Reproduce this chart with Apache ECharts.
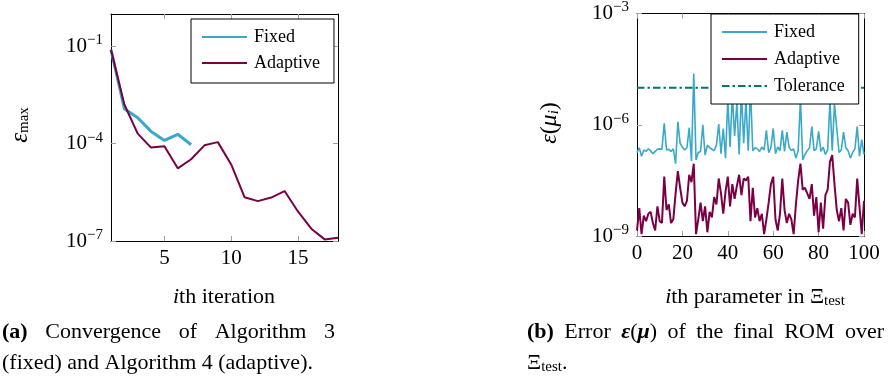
<!DOCTYPE html>
<html>
<head>
<meta charset="utf-8">
<script src="https://cdn.jsdelivr.net/npm/echarts@6/dist/echarts.min.js"></script>
<style>
  html, body { margin: 0; padding: 0; background: #fff; }
  #chart { width: 892px; height: 377px; }
</style>
</head>
<body>
<div id="chart"></div>
<script>
// (a) convergence of the greedy loop
const iterFixed = [1, 2, 3, 4, 5, 6, 7];
const errFixed = [7.94e-2, 1.20e-3, 6.31e-4, 2.40e-4, 1.26e-4, 1.95e-4, 9.33e-5];
const iterAdaptive = [1, 2, 3, 4, 5, 6, 7, 8, 9, 10, 11, 12, 13, 14, 15, 16, 17, 18];
const errAdaptive = [7.94e-2, 1.62e-3, 2.04e-4, 7.59e-5, 8.32e-5, 1.74e-5, 3.31e-5, 8.91e-5, 1.12e-4,
  2.29e-5, 2.24e-6, 1.70e-6, 2.19e-6, 3.47e-6, 8.13e-7, 2.40e-7, 1.12e-7, 1.26e-7];
const iterTicks = [5, 10, 15];
const errTicksA = [1e-7, 1e-4, 1e-1];

// (b) error of final ROM over the test set
const paramIdx = [0, 1, 2, 3, 4, 5, 6, 7, 8, 9, 10, 11, 12, 13, 14, 15, 16, 17, 18, 19,
  20, 21, 22, 23, 24, 25, 26, 27, 28, 29, 30, 31, 32, 33, 34, 35, 36, 37, 38, 39,
  40, 41, 42, 43, 44, 45, 46, 47, 48, 49, 50, 51, 52, 53, 54, 55, 56, 57, 58, 59,
  60, 61, 62, 63, 64, 65, 66, 67, 68, 69, 70, 71, 72, 73, 74, 75, 76, 77, 78, 79,
  80, 81, 82, 83, 84, 85, 86, 87, 88, 89, 90, 91, 92, 93, 94, 95, 96, 97, 98, 99, 100];
const errParamFixed = [
  1.78e-7, 2.40e-7, 1.41e-7, 2.09e-7, 1.91e-7, 2.24e-7, 2.00e-7, 1.66e-7, 1.91e-7, 2.19e-7,
  2.24e-7, 2.19e-7, 1.10e-6, 2.09e-7, 2.19e-7, 1.91e-7, 2.24e-7, 8.91e-8, 1.20e-6, 3.16e-7,
  2.51e-7, 2.09e-7, 2.40e-7, 8.32e-7, 1.05e-7, 2.40e-5, 1.12e-7, 1.78e-7, 1.91e-7, 1.00e-6,
  1.51e-7, 2.82e-7, 2.40e-7, 2.19e-7, 2.00e-7, 2.82e-7, 1.05e-6, 1.66e-7, 7.94e-7, 1.26e-7,
  5.01e-6, 2.51e-7, 6.31e-6, 5.01e-7, 3.98e-6, 1.58e-7, 7.94e-6, 3.16e-7, 4.47e-6, 2.00e-7,
  1.00e-5, 2.00e-7, 2.40e-7, 2.24e-7, 1.91e-7, 2.51e-7, 2.09e-7, 7.08e-7, 1.78e-7, 2.40e-7,
  7.94e-7, 1.66e-7, 2.51e-7, 2.00e-7, 7.08e-7, 1.91e-7, 6.31e-7, 2.51e-7, 2.00e-7, 2.24e-7,
  1.26e-7, 2.00e-7, 5.01e-6, 1.12e-7, 1.58e-7, 2.00e-7, 2.40e-7, 8.91e-7, 2.00e-7, 2.24e-7,
  6.61e-7, 1.91e-7, 2.51e-7, 1.58e-7, 2.09e-7, 4.47e-6, 2.00e-7, 3.55e-6, 7.94e-7, 1.78e-7,
  2.09e-7, 6.31e-7, 2.40e-7, 2.00e-7, 1.26e-7, 1.78e-7, 2.24e-7, 8.91e-7, 1.41e-7, 3.98e-7,
  1.58e-7];
const errParamAdaptive = [
  1.41e-9, 5.62e-9, 1.12e-9, 3.55e-9, 2.51e-9, 3.98e-9, 4.47e-9, 2.24e-9, 1.41e-9, 6.31e-9,
  2.51e-9, 2.24e-9, 3.98e-8, 5.01e-9, 7.08e-9, 2.24e-9, 2.82e-9, 1.41e-8, 5.62e-8, 2.00e-8,
  7.94e-9, 6.31e-9, 8.91e-9, 4.47e-8, 2.82e-8, 8.91e-8, 1.12e-9, 2.82e-9, 7.94e-9, 2.51e-9,
  6.31e-9, 1.26e-9, 4.47e-9, 3.16e-9, 1.12e-8, 7.08e-9, 3.55e-8, 1.41e-8, 3.98e-9, 1.58e-8,
  3.98e-8, 6.31e-9, 2.51e-8, 1.00e-8, 2.24e-8, 4.47e-8, 1.26e-8, 3.55e-8, 3.16e-8, 3.98e-8,
  2.51e-9, 2.00e-8, 3.16e-9, 5.62e-9, 2.51e-9, 3.98e-9, 1.12e-9, 2.82e-9, 7.94e-9, 2.51e-8,
  3.98e-8, 2.82e-9, 1.41e-9, 3.98e-9, 3.55e-8, 5.01e-9, 2.24e-9, 3.98e-9, 2.82e-9, 1.12e-9,
  7.08e-9, 3.16e-8, 8.91e-8, 1.78e-8, 2.00e-8, 1.41e-8, 1.00e-8, 2.51e-8, 3.55e-9, 1.12e-8,
  1.26e-9, 7.94e-9, 1.58e-9, 1.26e-8, 1.78e-8, 1.00e-7, 1.51e-7, 2.51e-8, 5.01e-9, 2.51e-9,
  5.62e-9, 1.41e-9, 1.00e-8, 7.94e-9, 2.00e-9, 3.98e-9, 3.16e-9, 3.55e-8, 6.31e-9, 1.12e-9,
  8.91e-9];
const tolX = [0, 100];
const tolY = [1e-5, 1e-5];
const paramTicks = [0, 20, 40, 60, 80, 100];
const errTicksB = [1e-9, 1e-6, 1e-3];

const serif = 'Liberation Serif';
const cCyan = '#3aa9c9';
const cPurple = '#7a0046';
const cTeal = '#00776f';
const tickGrey = '#a0a0a0';

const pairs = (xs, ys) => xs.map((x, i) => [x, ys[i]]);

// 10^{-n} labels
const powRich = {
  b: { fontFamily: serif, fontSize: 21, color: '#000' },
  s: { fontFamily: serif, fontSize: 15, color: '#000', padding: [0, 0, 12, 0] }
};
function powLabel(v) {
  const e = Math.round(Math.log10(v));
  return '{b|10}{s|\u2212' + Math.abs(e) + '}';
}

function xAxisDef(gridIndex, pos, min, max, ticks, showLabel) {
  return {
    type: 'value', gridIndex, position: pos, min, max,
    axisLine: { show: true, onZero: false, lineStyle: { color: '#000', width: 1 } },
    axisTick: { show: true, inside: true, length: 5, customValues: ticks, lineStyle: { color: tickGrey } },
    axisLabel: { show: showLabel, customValues: ticks, margin: 7, fontFamily: serif, fontSize: 21, color: '#000' },
    splitLine: { show: false }
  };
}
function yAxisDef(gridIndex, pos, min, max, ticks, showLabel) {
  return {
    type: 'log', logBase: 10, gridIndex, position: pos, min, max,
    axisLine: { show: true, onZero: false, lineStyle: { color: '#000', width: 1 } },
    axisTick: { show: true, inside: true, length: 5, customValues: ticks, lineStyle: { color: tickGrey } },
    axisLabel: { show: showLabel, customValues: ticks, margin: 8, formatter: powLabel, rich: powRich },
    splitLine: { show: false }
  };
}

function legendDef(left, top, names, padding, gap) {
  return {
    left, top, orient: 'vertical', data: names,
    backgroundColor: '#fff', borderColor: '#000', borderWidth: 1, borderRadius: 0,
    padding, itemGap: gap, itemWidth: 45, itemHeight: 14,
    selectedMode: false,
    itemStyle: { opacity: 0 },
    formatter: n => n.replace(' (b)', ''),
    textStyle: { fontFamily: serif, fontSize: 18, color: '#000', lineHeight: 18, padding: [0, 0, 0, 2] }
  };
}

// justified caption lines
const mctx = document.createElement('canvas').getContext('2d');
const fReg = '22px "' + serif + '"';
const fBold = 'bold 22px "' + serif + '"';
const fItB = 'italic bold 22px "' + serif + '"';
function tw(text, font) { mctx.font = font; return mctx.measureText(text).width; }

function word(t, font) {
  return { w: tw(t, font), make: (x, y) => ({ type: 'text', x, y, silent: true,
    style: { text: t, font, fill: '#000', verticalAlign: 'middle', align: 'left' } }) };
}
function epsMu() {
  const w = tw('ε', fItB) + tw('μ', fItB) + tw('(', fReg) + tw(')', fReg);
  return { w, make: (x, y) => ({ type: 'text', x, y, silent: true,
    style: { text: '{e|ε}{p|(}{e|μ}{p|)}', verticalAlign: 'middle', align: 'left',
      rich: { e: { fontFamily: serif, fontStyle: 'italic', fontWeight: 'bold', fontSize: 22, fill: '#000' },
              p: { fontFamily: serif, fontSize: 22, fill: '#000' } } } }) };
}
function justify(words, x0, x1, y) {
  const total = words.reduce((s, d) => s + d.w, 0);
  const gap = (x1 - x0 - total) / (words.length - 1);
  let x = x0;
  return words.map(d => { const el = d.make(x, y); x += d.w + gap; return el; });
}

const capA = justify([word('(a)', fBold), word('Convergence', fReg), word('of', fReg),
  word('Algorithm', fReg), word('3', fReg)], 2, 335, 332);
const capB = justify([word('(b)', fBold), word('Error', fReg), epsMu(), word('of', fReg),
  word('the', fReg), word('final', fReg), word('ROM', fReg), word('over', fReg)], 527, 884, 332);

const chart = echarts.init(document.getElementById('chart'), null, { renderer: 'canvas' });

chart.setOption({
  backgroundColor: '#fff',
  animation: false,
  grid: [
    { left: 111, top: 14, width: 227, height: 227 },
    { left: 637, top: 10, width: 227, height: 226 }
  ],
  xAxis: [
    xAxisDef(0, 'bottom', 1, 18, iterTicks, true),
    xAxisDef(0, 'top', 1, 18, iterTicks, false),
    xAxisDef(1, 'bottom', 0, 100, paramTicks, true),
    xAxisDef(1, 'top', 0, 100, paramTicks, false)
  ],
  yAxis: [
    yAxisDef(0, 'left', 1e-7, 1, errTicksA, true),
    yAxisDef(0, 'right', 1e-7, 1, errTicksA, false),
    yAxisDef(1, 'left', 1e-9, 1e-3, errTicksB, true),
    yAxisDef(1, 'right', 1e-9, 1e-3, errTicksB, false)
  ],
  legend: [
    legendDef(191, 19, ['Fixed', 'Adaptive'], [9, 14, 11, 10], 8),
    legendDef(711, 14, ['Fixed (b)', 'Adaptive (b)', 'Tolerance'], [9, 14, 9, 10], 9)
  ],
  series: [
    { name: 'Fixed', type: 'line', xAxisIndex: 0, yAxisIndex: 0, data: pairs(iterFixed, errFixed),
      symbol: 'none', color: cCyan, lineStyle: { width: 3, color: cCyan } },
    { name: 'Adaptive', type: 'line', xAxisIndex: 0, yAxisIndex: 0, data: pairs(iterAdaptive, errAdaptive),
      symbol: 'none', color: cPurple, lineStyle: { width: 2, color: cPurple } },
    { name: 'Fixed (b)', type: 'line', xAxisIndex: 2, yAxisIndex: 2, data: pairs(paramIdx, errParamFixed),
      symbol: 'none', color: cCyan, lineStyle: { width: 1.6, color: cCyan } },
    { name: 'Adaptive (b)', type: 'line', xAxisIndex: 2, yAxisIndex: 2, data: pairs(paramIdx, errParamAdaptive),
      symbol: 'none', color: cPurple, lineStyle: { width: 2, color: cPurple } },
    { name: 'Tolerance', type: 'line', xAxisIndex: 2, yAxisIndex: 2, data: pairs(tolX, tolY),
      symbol: 'none', color: cTeal, lineStyle: { width: 2, color: cTeal, type: [7.5, 3, 2.5, 3] } }
  ],
  graphic: [
    // y axis titles
    { type: 'text', x: 20, y: 125, rotation: Math.PI / 2, silent: true,
      style: { text: '{e|ε}{s|max}', align: 'center', verticalAlign: 'middle',
        rich: { e: { fontFamily: serif, fontStyle: 'italic', fontSize: 25, fill: '#000' },
                s: { fontFamily: serif, fontSize: 15, fill: '#000', padding: [8, 0, 0, 0] } } } },
    { type: 'text', x: 550, y: 123, rotation: Math.PI / 2, silent: true,
      style: { text: '{e|ε}{p|(}{e|μ}{s|i}{p|)}', align: 'center', verticalAlign: 'middle',
        rich: { e: { fontFamily: serif, fontStyle: 'italic', fontSize: 24, fill: '#000' },
                p: { fontFamily: serif, fontSize: 24, fill: '#000' },
                s: { fontFamily: serif, fontStyle: 'italic', fontSize: 15, fill: '#000', padding: [9, 0, 0, 0] } } } },
    // x axis titles
    { type: 'text', x: 224, y: 297, silent: true,
      style: { text: '{i|i}{r|th iteration}', align: 'center', verticalAlign: 'middle',
        rich: { i: { fontFamily: serif, fontStyle: 'italic', fontSize: 22, fill: '#000' },
                r: { fontFamily: serif, fontSize: 22, fill: '#000' } } } },
    { type: 'text', x: 755, y: 297, silent: true,
      style: { text: '{i|i}{r|th parameter in Ξ}{s|test}', align: 'center', verticalAlign: 'middle',
        rich: { i: { fontFamily: serif, fontStyle: 'italic', fontSize: 22, fill: '#000' },
                r: { fontFamily: serif, fontSize: 22, fill: '#000' },
                s: { fontFamily: serif, fontSize: 15, fill: '#000', padding: [8, 0, 0, 0] } } } },
    // captions
    ...capA,
    { type: 'text', x: 2, y: 363, silent: true,
      style: { text: '(fixed) and Algorithm 4 (adaptive).', font: fReg, fill: '#000', verticalAlign: 'middle', align: 'left' } },
    ...capB,
    { type: 'text', x: 527, y: 363, silent: true,
      style: { text: '{r|Ξ}{s|test}{r|.}', verticalAlign: 'middle', align: 'left',
        rich: { r: { fontFamily: serif, fontSize: 22, fill: '#000' },
                s: { fontFamily: serif, fontSize: 15, fill: '#000', padding: [8, 0, 0, 0] } } } }
  ]
});
</script>
</body>
</html>
